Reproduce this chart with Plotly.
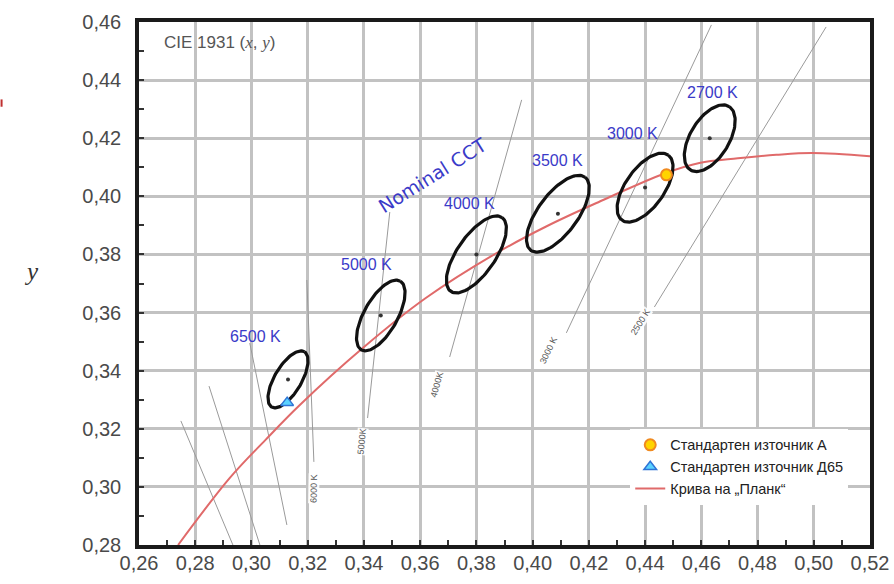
import numpy as np
import plotly.graph_objects as go

# ---------------- data ----------------
planck_x = [0.2739, 0.2923, 0.3050, 0.3172, 0.3396, 0.3620, 0.3872, 0.4050,
            0.4227, 0.4476, 0.4593, 0.4730, 0.4867, 0.4995, 0.5200]
planck_y = [0.2800, 0.3031, 0.3162, 0.3282, 0.3478, 0.3650, 0.3805, 0.3897,
            0.3977, 0.4081, 0.4115, 0.4131, 0.4143, 0.4149, 0.4138]

cct_labels = ["6500 K", "5000 K", "4000 K", "3500 K", "3000 K", "2700 K"]
ell_cx = [0.313, 0.346, 0.380, 0.409, 0.440, 0.463]
ell_cy = [0.337, 0.359, 0.380, 0.394, 0.403, 0.420]
ell_a = [0.01115, 0.0137, 0.01565, 0.01585, 0.0139, 0.0129]
ell_b = [0.00475, 0.0059, 0.0067, 0.00695, 0.0068, 0.00685]
ell_theta = [58.23, 59.37, 54.00, 52.13, 53.22, 57.28]
label_x = [0.3015, 0.3410, 0.3776, 0.4089, 0.4355, 0.4639]
label_y = [0.3516, 0.3767, 0.3977, 0.4125, 0.4215, 0.4359]

src_a = (0.4476, 0.4074)
src_d65 = (0.3127, 0.3290)

# isotherm lines: (x0, y0, x1, y1)
iso_x0 = [0.2749, 0.2849, 0.2994, 0.3197, 0.3492, 0.3961, 0.4636, 0.5044]
iso_y0 = [0.3227, 0.3347, 0.3495, 0.3712, 0.3946, 0.4332, 0.4590, 0.4583]
iso_x1 = [0.2934, 0.3030, 0.3126, 0.3222, 0.3413, 0.3705, 0.4120, 0.4433]
iso_y1 = [0.2800, 0.2800, 0.2869, 0.3086, 0.3237, 0.3447, 0.3530, 0.3619]
iso_text = ["6000 K", "5000K", "4000K", "3000 K", "2500 K"]
iso_tx = [0.3222, 0.3392, 0.3659, 0.4057, 0.4383]
iso_ty = [0.2996, 0.3155, 0.3351, 0.3471, 0.3568]
iso_ang = [-89, -84, -74, -64, -58]

x_ticks = [round(0.26 + 0.02 * i, 2) for i in range(14)]
y_ticks = [round(0.28 + 0.02 * i, 2) for i in range(10)]

# ---------------- figure ----------------
fig = go.Figure()

for x0, y0, x1, y1 in zip(iso_x0, iso_y0, iso_x1, iso_y1):
    fig.add_trace(go.Scatter(x=[x0, x1], y=[y0, y1], mode="lines",
                             line=dict(color="#9a9a9a", width=1),
                             showlegend=False, hoverinfo="skip"))

fig.add_trace(go.Scatter(x=planck_x, y=planck_y, mode="lines",
                         line=dict(color="#e06a6a", width=2, shape="spline"),
                         name="Крива на „Планк“", legendgroup="c", legendrank=3))

t = np.linspace(0, 2 * np.pi, 120)
for cx, cy, a, b, th in zip(ell_cx, ell_cy, ell_a, ell_b, ell_theta):
    r = np.deg2rad(th)
    ex = cx + a * np.cos(t) * np.cos(r) - b * np.sin(t) * np.sin(r)
    ey = cy + a * np.cos(t) * np.sin(r) + b * np.sin(t) * np.cos(r)
    fig.add_trace(go.Scatter(x=ex, y=ey, mode="lines",
                             line=dict(color="#111111", width=3.2),
                             showlegend=False, hoverinfo="skip"))

fig.add_trace(go.Scatter(x=ell_cx, y=ell_cy, mode="markers",
                         marker=dict(color="#333333", size=4),
                         showlegend=False, hoverinfo="skip"))

fig.add_trace(go.Scatter(x=[src_a[0]], y=[src_a[1]], mode="markers",
                         marker=dict(color="#ffd400", size=11, symbol="circle",
                                     line=dict(color="#f08a20", width=2)),
                         name="Стандартен източник А", legendgroup="a", legendrank=1))
fig.add_trace(go.Scatter(x=[src_d65[0]], y=[src_d65[1]], mode="markers",
                         marker=dict(color="#5ad2ff", size=11, symbol="triangle-up",
                                     line=dict(color="#2f74d6", width=1.5)),
                         name="Стандартен източник Д65", legendgroup="b", legendrank=2))

annotations = []
for txt, lx, ly in zip(cct_labels, label_x, label_y):
    annotations.append(dict(x=lx, y=ly, xref="x", yref="y", text=txt, showarrow=False,
                            font=dict(family="Liberation Sans", size=16, color="#3a3ac8")))
for txt, tx, ty, ang in zip(iso_text, iso_tx, iso_ty, iso_ang):
    annotations.append(dict(x=tx, y=ty, xref="x", yref="y", text=txt, showarrow=False,
                            textangle=ang, bgcolor="rgba(255,255,255,0.9)", borderpad=0,
                            font=dict(family="Liberation Sans", size=9, color="#555555")))
annotations.append(dict(x=0.3645, y=0.4072, xref="x", yref="y", text="Nominal CCT",
                        showarrow=False, textangle=-32,
                        font=dict(family="DejaVu Sans", size=19, color="#3a3ac8")))
annotations.append(dict(x=0.032, y=0.960, xref="paper", yref="paper",
                        xanchor="left", yanchor="middle",
                        text="CIE 1931 (<i><span style='font-family:Liberation Serif'>x</span></i>, "
                             "<i><span style='font-family:Liberation Serif'>y</span></i>)",
                        showarrow=False,
                        font=dict(family="Liberation Sans", size=17, color="#555555")))
annotations.append(dict(x=-0.16, y=0.522, xref="paper", yref="paper",
                        text="<i>y</i>", showarrow=False,
                        font=dict(family="Liberation Serif", size=25, color="#333333")))

axis_common = dict(showline=True, linewidth=3.5, linecolor="#1a1a1a", mirror=True,
                   showgrid=True, gridcolor="#c2c2c2", gridwidth=2.5,
                   ticks="inside", ticklen=5, tickcolor="#333333", tickwidth=2,
                   tickformat=".2f", zeroline=False, automargin=False,
                   tickfont=dict(family="Liberation Sans", size=20, color="#4a4a4a"),
                   minor=dict(ticks="inside", ticklen=5, tickcolor="#333333",
                              tickwidth=2, dtick=0.01, showgrid=False))

fig.update_layout(
    width=894, height=584,
    margin=dict(l=139, r=24, t=22, b=39),
    paper_bgcolor="white", plot_bgcolor="white",
    separators=", ",
    font=dict(family="Liberation Sans"),
    xaxis=dict(range=[0.26, 0.52], tickvals=x_ticks, ticklabelstandoff=-3, **axis_common),
    yaxis=dict(range=[0.28, 0.46], tickvals=y_ticks, ticklabelstandoff=10, **axis_common),
    legend=dict(x=0.672, y=0.222, xanchor="left", yanchor="top",
                bgcolor="white", font=dict(family="Liberation Sans", size=14.5, color="#222222"),
                tracegroupgap=2, traceorder="normal"),
    annotations=annotations,
    shapes=[dict(type="line", xref="paper", yref="paper", x0=-0.188, x1=-0.188,
                 y0=0.852, y1=0.838, line=dict(color="#c03030", width=2))],
)

fig.write_html("out.html")
